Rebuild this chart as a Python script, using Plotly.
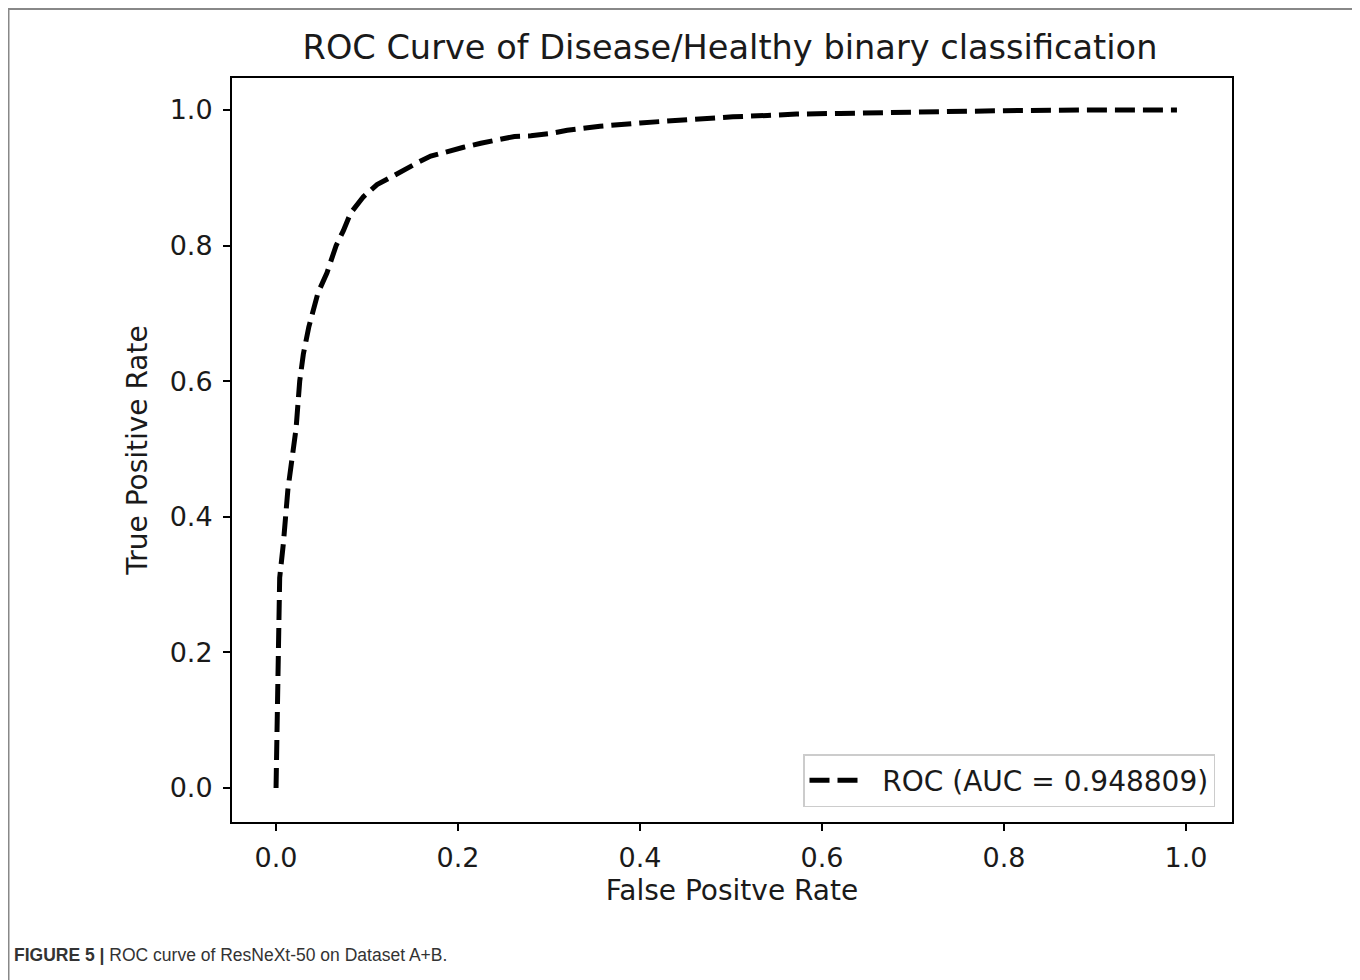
import plotly.graph_objects as go

# ROC curve points
fpr = [0.0, 0.002, 0.004, 0.008, 0.013, 0.018, 0.022, 0.026, 0.030, 0.036,
       0.046, 0.056, 0.066, 0.074, 0.082, 0.096, 0.111, 0.125, 0.140, 0.155,
       0.170, 0.190, 0.206, 0.225, 0.243, 0.262, 0.280, 0.300, 0.320, 0.356,
       0.400, 0.430, 0.470, 0.502, 0.540, 0.572, 0.620, 0.700, 0.800, 0.900, 0.990]
tpr = [0.0, 0.155, 0.310, 0.360, 0.440, 0.490, 0.530, 0.600, 0.640, 0.680,
       0.730, 0.760, 0.800, 0.822, 0.848, 0.872, 0.890, 0.900, 0.912, 0.922,
       0.932, 0.940, 0.945, 0.951, 0.956, 0.961, 0.962, 0.965, 0.970, 0.976,
       0.981, 0.984, 0.987, 0.990, 0.992, 0.994, 0.995, 0.997, 0.999, 1.000, 1.000]

auc_label = "ROC (AUC = 0.948809)"
title_text = "ROC Curve of Disease/Healthy binary classification"
x_title = "False Positve Rate"
y_title = "True Positive Rate"
tick_vals = [0.0, 0.2, 0.4, 0.6, 0.8, 1.0]
tick_text = ["0.0", "0.2", "0.4", "0.6", "0.8", "1.0"]
caption_bold = "FIGURE 5 |"
caption_rest = " ROC curve of ResNeXt-50 on Dataset A+B."

font_main = "DejaVu Sans"
ink = "#1a1a1a"

fig = go.Figure()
fig.add_trace(go.Scatter(
    x=fpr, y=tpr, mode="lines", name="\u00a0\u00a0" + auc_label,
    line=dict(color="black", width=5, dash="20px,8px"),
))

# the page body adds an 8px offset, compensated in the margins
fig.update_layout(
    width=1360, height=980,
    margin=dict(l=224, r=136, t=70, b=166),
    paper_bgcolor="white", plot_bgcolor="white",
    font=dict(family=font_main, size=28, color=ink),
    title=dict(text=title_text, x=0.498, xanchor="center", xref="paper",
               y=1 - 39 / 980, yanchor="middle", yref="container",
               font=dict(family=font_main, size=33.6, color=ink)),
    showlegend=True,
    legend=dict(x=0.983, y=0.02, xanchor="right", yanchor="bottom",
                bordercolor="#cccccc", borderwidth=1.5, bgcolor="white",
                font=dict(family=font_main, size=28, color=ink),
                itemwidth=50),
)

fig.update_xaxes(
    range=[-0.0484, 1.0505], tickvals=tick_vals, ticktext=tick_text,
    showgrid=False, zeroline=False, showline=True, linecolor="black", linewidth=2,
    mirror=True, ticks="outside", ticklen=7, tickwidth=2, tickcolor="black",
    ticklabelstandoff=4, tickfont=dict(family=font_main, size=27, color=ink),
    title=dict(text=x_title, standoff=8, font=dict(family=font_main, size=28, color=ink)),
)
fig.update_yaxes(
    range=[-0.0501, 1.0472], tickvals=tick_vals, ticktext=tick_text,
    showgrid=False, zeroline=False, showline=True, linecolor="black", linewidth=2,
    mirror=True, ticks="outside", ticklen=7, tickwidth=2, tickcolor="black",
    ticklabelstandoff=5, tickfont=dict(family=font_main, size=27, color=ink),
    title=dict(text=y_title, standoff=14, font=dict(family=font_main, size=28, color=ink)),
)

# outer figure frame (open at the bottom, as in the page crop)
fig.add_shape(type="path", xref="paper", yref="paper",
              path="M -0.2235,-0.24 L -0.2235,1.0927 L 1.122,1.0927 L 1.122,-0.24",
              line=dict(color="#888888", width=2))

fig.add_annotation(
    xref="paper", yref="paper", x=(12 - 232) / 1000, y=(822 - 955) / 744,
    xanchor="left", yanchor="middle", showarrow=False, align="left",
    text="<b>" + caption_bold + "</b>" + caption_rest,
    font=dict(family="Liberation Sans", size=17.5, color="#333333"),
)

fig.write_html("out.html")
